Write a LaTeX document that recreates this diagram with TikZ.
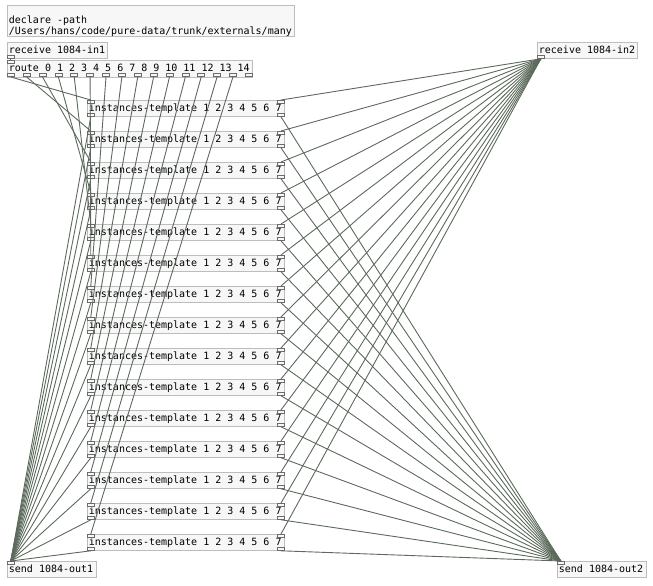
\documentclass[tikz,border=0pt]{standalone}
\usepackage{fontspec}
\setmonofont[WordSpace={1,0,0}]{DejaVu Sans Mono}
\definecolor{boxc}{rgb}{0.74,0.74,0.74}
\definecolor{fillc}{rgb}{0.97,0.97,0.97}
\definecolor{ioc}{rgb}{0.42,0.42,0.42}
\definecolor{linec}{RGB}{92,106,92}
\begin{document}
\begin{tikzpicture}[x=1pt,y=-1pt,
  pdbox/.style={draw=boxc, fill=fillc, line width=0.8pt, rectangle, inner xsep=1.5pt, inner ysep=0pt,
    anchor=north west, minimum height=16pt,
    font=\ttfamily\fontsize{10}{11}\selectfont, text height=7.5pt, text depth=2pt,
    execute at begin node={\spaceskip=6.02pt\relax\xspaceskip=6.02pt\relax}},
  iolet/.style={draw=ioc, fill=fillc, line width=0.6pt, rectangle, minimum width=7pt, minimum height=3pt, inner sep=0pt},
  conn/.style={draw=linec, line width=0.9pt}]
\useasboundingbox (0,0) rectangle (653,586);

% declare
\node[pdbox, text width=284pt, minimum height=31pt] (decl) at (7,5)
  {declare -path\\/Users/hans/code/pure-data/trunk/externals/many};

% receive in1
\node[pdbox, text width=97pt] (rin1) at (7,42) {receive 1084-in1};
\node[iolet, anchor=south west] (rin1-o) at (rin1.south west) {};

% route
\node[pdbox, text width=242pt, minimum height=17pt] (route) at (7,60)
  {route 0 1 2 3 4 5 6 7 8 9 10 11 12 13 14};
\node[iolet, anchor=north west] (route-i) at (route.north west) {};
\foreach \k in {0,...,15}{
  \node[iolet, anchor=south west] (ro\k) at ({7+238/15*\k},77) {};
}

% receive in2
\node[pdbox, text width=97pt] (rin2) at (537,42) {receive 1084-in2};
\node[iolet, anchor=south west] (rin2-o) at (rin2.south west) {};

% sends
\node[pdbox, text width=86pt] (sout1) at (7,561) {send 1084-out1};
\node[iolet, anchor=north west] (sout1-i) at (sout1.north west) {};
\node[pdbox, text width=85.5pt] (sout2) at (557,561) {send 1084-out2};
\node[iolet, anchor=north west] (sout2-i) at (sout2.north west) {};

% instances
\foreach \i in {0,...,14}{
  \pgfmathsetmacro{\yy}{100+31*\i}
  \node[pdbox, text width=194pt] (inst\i) at (87,\yy) {instances-template 1 2 3 4 5 6 7};
  \node[iolet, anchor=north west] (inst\i-i0) at (inst\i.north west) {};
  \node[iolet, anchor=north east] (inst\i-i1) at (inst\i.north east) {};
  \node[iolet, anchor=south west] (inst\i-o0) at (inst\i.south west) {};
  \node[iolet, anchor=south east] (inst\i-o1) at (inst\i.south east) {};
}

% connections
\draw[conn] (rin1-o.south) -- (route-i.north);
\foreach \i in {0,...,14}{
  \draw[conn] (ro\i.south) -- (inst\i-i0.north);
  \draw[conn] (rin2-o.south) -- (inst\i-i1.north);
  \draw[conn] (inst\i-o0.south) -- (sout1-i.north);
  \draw[conn] (inst\i-o1.south) -- (sout2-i.north);
}
\end{tikzpicture}
\end{document}
